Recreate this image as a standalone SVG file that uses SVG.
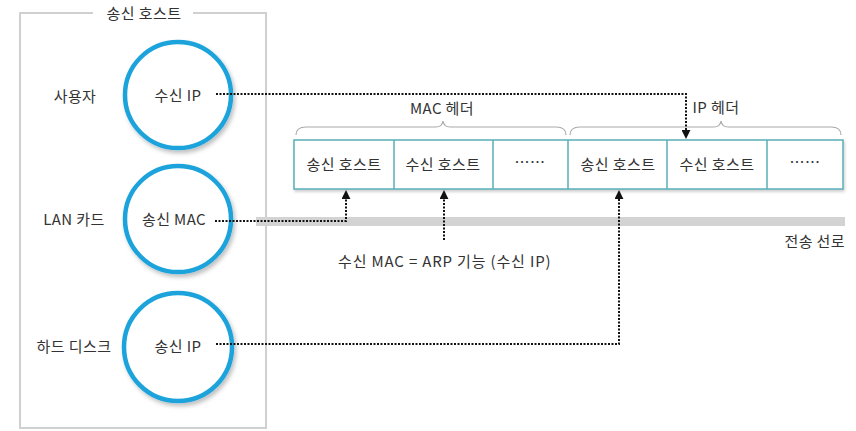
<svg xmlns="http://www.w3.org/2000/svg" width="856" height="431" viewBox="0 0 856 431">
<style>
text{font-family:"Noto Sans CJK KR","Noto Sans",sans-serif;font-size:15px;fill:#333;letter-spacing:0.4px;}
.c{text-anchor:middle;}
.node{fill:#fff;stroke:#1ba3dc;stroke-width:4.5;filter:url(#sh);}
.cell{fill:#fff;stroke:#5aaeb8;stroke-width:1.5;}
.dot{fill:none;stroke:#111;stroke-width:2;stroke-dasharray:2 1.5;}
.brace{fill:none;stroke:#aaa;stroke-width:1.2;}
</style>
<defs>
<filter id="sh" x="-20%" y="-20%" width="150%" height="150%">
<feDropShadow dx="2" dy="3" stdDeviation="2" flood-color="#000" flood-opacity="0.25"/>
</filter>
<filter id="sh2" x="-5%" y="-20%" width="110%" height="150%">
<feDropShadow dx="1" dy="2" stdDeviation="1.5" flood-color="#000" flood-opacity="0.2"/>
</filter>
<marker id="ar" viewBox="0 0 10 10" refX="9" refY="5" markerWidth="4.5" markerHeight="4.5" orient="auto">
<path d="M0,0 L10,5 L0,10 z" fill="#111"/>
</marker>
</defs>

<g id="host">
<path d="M93,13 H20 V428 H266 V13 H193" fill="none" stroke="#d0d0d0" stroke-width="2"/>
<text class="c" x="144" y="19">송신 호스트</text>
<text class="c" x="75" y="102">사용자</text>
<text class="c" x="74" y="225">LAN 카드</text>
<text class="c" x="74" y="352">하드 디스크</text>
</g>

<g id="line">
<rect x="256" y="217" width="589" height="9" fill="#d3d3d3"/>
<text x="845" y="247" text-anchor="end">전송 선로</text>
</g>

<g id="node-recv-ip">
<circle class="node" cx="178" cy="95" r="53"/>
<text class="c" x="178" y="101">수신 IP</text>
</g>
<g id="node-send-mac">
<circle class="node" cx="178" cy="219" r="53"/>
<text class="c" x="174" y="225">송신 MAC</text>
</g>
<g id="node-send-ip">
<circle class="node" cx="178" cy="347" r="54"/>
<text class="c" x="178" y="352">송신 IP</text>
</g>

<g id="packet">
<g filter="url(#sh2)">
<rect class="cell" x="294" y="140" width="549" height="49"/>
</g>
<path d="M394,140V189 M493,140V189 M568,140V189 M667,140V189 M767,140V189" stroke="#5aaeb8" stroke-width="1.5"/>
<text class="c" x="344" y="170">송신 호스트</text>
<text class="c" x="443" y="170">수신 호스트</text>
<text class="c" x="530" y="168">……</text>
<text class="c" x="618" y="170">송신 호스트</text>
<text class="c" x="717" y="170">수신 호스트</text>
<text class="c" x="805" y="168">……</text>
</g>

<g id="mac-header">
<path class="brace" d="M296,135 Q296,127 306,127 H436 Q442,127 443,121 Q444,127 450,127 H556 Q566,127 566,135"/>
<text class="c" x="442" y="114">MAC 헤더</text>
</g>
<g id="ip-header">
<path class="brace" d="M570,135 Q570,127 580,127 H714 Q720,127 721,121 Q722,127 728,127 H831 Q841,127 841,135"/>
<text class="c" x="716" y="113">IP 헤더</text>
</g>

<g id="connectors">
<path class="dot" d="M216,94 H686 V138" marker-end="url(#ar)"/>
<path class="dot" d="M215,221 H346 V191" marker-end="url(#ar)"/>
<path class="dot" d="M444,240 V191" marker-end="url(#ar)"/>
<path class="dot" d="M216,344 H619 V191" marker-end="url(#ar)"/>
</g>

<g id="arp">
<text x="338" y="267" textLength="213" lengthAdjust="spacing">수신 MAC = ARP 기능 (수신 IP)</text>
</g>
</svg>
